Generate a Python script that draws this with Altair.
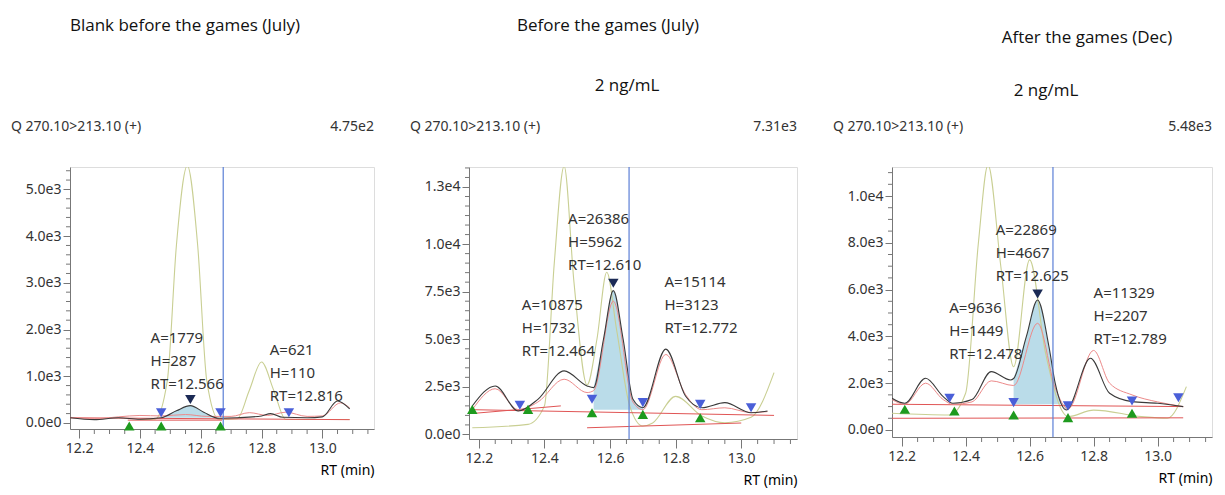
import altair as alt
import pandas as pd

FONT = "Open Sans"
UI_FONT = "Noto Sans"

# ---------- panel 1: blank before the games ----------
p1_black_x = [12.17, 12.25, 12.33, 12.40, 12.47, 12.52, 12.566, 12.61, 12.66, 12.72, 12.80, 12.83, 12.87, 12.95, 13.00, 13.05, 13.09]
p1_black_y = [110, 70, 110, 80, 110, 260, 370, 230, 100, 110, 150, 200, 120, 110, 130, 470, 300]
p1_pink_x = [12.17, 12.25, 12.33, 12.40, 12.47, 12.55, 12.62, 12.70, 12.76, 12.82, 12.88, 12.95, 13.00, 13.06, 13.09]
p1_pink_y = [120, 90, 130, 160, 150, 180, 140, 140, 220, 160, 230, 140, 150, 430, 320]
p1_yel_x = [12.40, 12.45, 12.49, 12.52, 12.556, 12.59, 12.62, 12.66, 12.72, 12.76, 12.80, 12.84, 12.88, 12.95, 13.09]
p1_yel_y = [72, 80, 900, 3800, 5507, 3800, 900, 72, 90, 700, 1304, 700, 72, 72, 72]
p1_fill = (12.47, 12.66)
p1_base_x = [[12.17, 13.09], [12.36, 12.67]]
p1_base_y = [[110, 70], [60, 60]]
p1_blue_x = [12.47, 12.665, 12.89]
p1_blue_y = [217, 217, 217]
p1_green_x = [12.365, 12.47, 12.665]
p1_green_y = [-65, -65, -65]
p1_apex = (12.566, 500)
p1_vline = 12.674
p1_ann_x = [12.435, 12.827]
p1_ann_y = [1811, 1558]
p1_ann = [["A=1779", "H=287", "RT=12.566"], ["A=621", "H=110", "RT=12.816"]]
p1_ymajor = [0, 1000, 2000, 3000, 4000, 5000]

# ---------- panel 2: before the games ----------
p2_black_x = [12.18, 12.25, 12.32, 12.38, 12.46, 12.53, 12.55, 12.58, 12.61, 12.64, 12.67, 12.70, 12.77, 12.83, 12.88, 12.95, 13.03, 13.08]
p2_black_y = [1494, 2548, 1230, 1845, 3338, 2548, 2460, 5000, 7555, 5000, 1845, 1405, 4480, 2020, 1405, 1670, 1140, 1230]
p2_pink_x = [12.18, 12.25, 12.32, 12.38, 12.46, 12.53, 12.55, 12.61, 12.67, 12.70, 12.77, 12.83, 12.88, 12.95, 13.03, 13.08]
p2_pink_y = [1300, 2400, 1300, 1700, 2900, 2200, 2300, 7000, 1700, 1300, 4200, 2100, 1300, 1400, 1150, 1200]
p2_yel_x = [12.18, 12.35, 12.40, 12.43, 12.46, 12.49, 12.53, 12.56, 12.59, 12.62, 12.66, 12.70, 12.73, 12.80, 12.88, 12.95, 13.03, 13.10]
p2_yel_y = [350, 530, 1500, 9000, 14100, 8000, 2600, 5000, 8520, 5500, 1500, 440, 600, 2000, 970, 615, 900, 3250]
p2_fill = (12.55, 12.70)
p2_base_x = [[12.18, 13.10], [12.53, 13.00], [12.18, 12.45]]
p2_base_y = [[1300, 1000], [350, 600], [1100, 1500]]
p2_blue_x = [12.325, 12.545, 12.70, 12.875, 13.03]
p2_blue_y = [1530, 1845, 1670, 1580, 1405]
p2_green_x = [12.18, 12.35, 12.545, 12.70, 12.875]
p2_green_y = [1318, 1318, 1140, 1054, 878]
p2_apex = (12.61, 7940)
p2_vline = 12.658
p2_ann_x = [12.472, 12.331, 12.766]
p2_ann_y = [11330, 6800, 8030]
p2_ann = [["A=26386", "H=5962", "RT=12.610"], ["A=10875", "H=1732", "RT=12.464"], ["A=15114", "H=3123", "RT=12.772"]]
p2_ymajor = [0, 2500, 5000, 7500, 10000, 13000]

# ---------- panel 3: after the games ----------
p3_black_x = [12.17, 12.21, 12.275, 12.33, 12.36, 12.42, 12.48, 12.54, 12.55, 12.59, 12.625, 12.66, 12.68, 12.715, 12.79, 12.85, 12.92, 13.00, 13.08]
p3_black_y = [1354, 1140, 2210, 1425, 1140, 1300, 2494, 2138, 2200, 4000, 5558, 3600, 2000, 855, 3064, 1568, 1211, 1140, 998]
p3_pink_x = [12.17, 12.21, 12.275, 12.33, 12.36, 12.42, 12.48, 12.55, 12.625, 12.68, 12.72, 12.80, 12.85, 12.92, 13.00, 13.08]
p3_pink_y = [1300, 1100, 2000, 1300, 1100, 1200, 2100, 1900, 4560, 1800, 900, 3400, 2000, 1500, 1200, 1000]
p3_yel_x = [12.17, 12.35, 12.40, 12.44, 12.47, 12.51, 12.55, 12.60, 12.65, 12.70, 12.72, 12.80, 12.95, 13.03, 13.09]
p3_yel_y = [712, 640, 1568, 8000, 11330, 7000, 2700, 7270, 3280, 855, 570, 850, 570, 500, 1852]
p3_fill = (12.55, 12.715)
p3_base_x = [[12.17, 13.08], [12.17, 13.08]]
p3_base_y = [[1100, 1000], [500, 520]]
p3_blue_x = [12.35, 12.55, 12.72, 12.92, 13.065]
p3_blue_y = [1354, 1170, 1030, 1240, 1380]
p3_green_x = [12.21, 12.365, 12.55, 12.72, 12.92]
p3_green_y = [883, 810, 641, 527, 712]
p3_apex = (12.625, 5814)
p3_vline = 12.673
p3_ann_x = [12.494, 12.349, 12.80]
p3_ann_y = [8550, 5200, 5870]
p3_ann = [["A=22869", "H=4667", "RT=12.625"], ["A=9636", "H=1449", "RT=12.478"], ["A=11329", "H=2207", "RT=12.789"]]
p3_ymajor = [0, 2000, 4000, 6000, 8000, 10000]

x_major = [12.2, 12.4, 12.6, 12.8, 13.0]
x_minor = [12.25, 12.3, 12.35, 12.45, 12.5, 12.55, 12.65, 12.7, 12.75, 12.85, 12.9, 12.95, 13.05, 13.1, 13.15]

headers = [
    {"title": "Blank before the games (July)", "tx": 115, "ty": -141, "conc": None, "cx": 0, "cy": 0, "scale": "4.75e2"},
    {"title": "Before the games (July)", "tx": 139, "ty": -141, "conc": "2 ng/mL", "cx": 158, "cy": -81, "scale": "7.31e3"},
    {"title": "After the games (Dec)", "tx": 195, "ty": -129, "conc": "2 ng/mL", "cx": 154, "cy": -76, "scale": "5.48e3"},
]


def panel(bx, by, px, py, yx, yy, fill, base_x, base_y, blue_x, blue_y, green_x, green_y,
          apex, vline, ann_x, ann_y, ann, ydom, ymajor, ystep, width, height, hdr):
    xdom = [12.17, 13.17]
    x_axis = alt.Axis(values=x_major, title="RT (min)", titleAnchor="end", titleFontWeight="normal",
                      titleFont=UI_FONT, titleFontSize=14, titlePadding=8, format=".1f",
                      tickSize=9, labelFont=UI_FONT, labelFontSize=14, labelColor="#333", labelPadding=3,
                      grid=False, domainColor="#777", tickColor="#777")
    y_axis = alt.Axis(values=ymajor, title=None, tickSize=7,
                      labelExpr="replace(format(datum.value, '.1e'), '+', '')",
                      labelFont=UI_FONT, labelFontSize=14, labelColor="#333",
                      grid=False, domainColor="#777", tickColor="#777")
    X = alt.X("x:Q", scale=alt.Scale(domain=xdom, nice=False, zero=False), axis=x_axis)
    Y = alt.Y("y:Q", scale=alt.Scale(domain=ydom, nice=False, zero=False), axis=y_axis)
    Xn = alt.X("x:Q")
    Yn = alt.Y("y:Q")

    black = pd.DataFrame({"x": bx, "y": by})
    fill_df = black[(black.x >= fill[0]) & (black.x <= fill[1])].assign(y2=base_y[0][0])
    y_minor = [ystep * i for i in range(int(ydom[1] // ystep) + 1) if ystep * i not in ymajor]
    layers = [
        alt.Chart(fill_df).mark_area(color="#a9d3e3", opacity=0.8, interpolate="monotone", clip=True)
        .encode(x=X, y=Y, y2="y2:Q"),
        # minor ticks
        alt.Chart(pd.DataFrame({"y": y_minor})).mark_rule(color="#777", strokeWidth=1)
        .encode(y=Yn, x=alt.value(-4), x2=alt.value(0)),
        alt.Chart(pd.DataFrame({"x": x_minor})).mark_rule(color="#777", strokeWidth=1)
        .encode(x=Xn, y=alt.value(height), y2=alt.value(height + 5)),
        alt.Chart(pd.DataFrame({"x": yx, "y": yy})).mark_line(color="#c9cf93", strokeWidth=1.1,
                                                              interpolate="monotone", clip=True).encode(x=Xn, y=Yn),
    ]
    for bxs, bys in zip(base_x, base_y):
        layers.append(alt.Chart(pd.DataFrame({"x": bxs, "y": bys})).mark_line(color="#e05555", strokeWidth=1)
                      .encode(x=Xn, y=Yn))
    layers += [
        alt.Chart(pd.DataFrame({"x": px, "y": py})).mark_line(color="#ec8a8a", strokeWidth=1,
                                                              interpolate="monotone", clip=True).encode(x=Xn, y=Yn),
        alt.Chart(black).mark_line(color="#3a3a3a", strokeWidth=1.1, interpolate="monotone", clip=True)
        .encode(x=Xn, y=Yn),
        alt.Chart(pd.DataFrame({"x": [vline]})).mark_rule(color="#5b7fd6", strokeWidth=1.2)
        .encode(x=Xn),
        alt.Chart(pd.DataFrame({"x": blue_x, "y": blue_y})).mark_point(shape="triangle-down", filled=True,
                                                                      size=110, color="#4a5fd8", opacity=1)
        .encode(x=Xn, y=Yn),
        alt.Chart(pd.DataFrame({"x": green_x, "y": green_y})).mark_point(shape="triangle-up", filled=True,
                                                                        size=110, color="#1e9a1e", opacity=1)
        .encode(x=Xn, y=Yn),
        alt.Chart(pd.DataFrame({"x": [apex[0]], "y": [apex[1]]})).mark_point(shape="triangle-down", filled=True,
                                                                            size=110, color="#1b2a55", opacity=1)
        .encode(x=Xn, y=Yn),
    ]
    ann_df = pd.DataFrame({"x": ann_x, "y": ann_y, "t": ann})
    layers.append(alt.Chart(ann_df).mark_text(align="left", baseline="middle", font=UI_FONT, fontSize=15,
                                              color="#333", lineHeight=23)
                  .encode(x=Xn, y=Yn, text="t"))

    one = pd.DataFrame({"d": [0]})
    layers.append(alt.Chart(one).mark_text(text=hdr["title"], font=FONT, fontSize=17, color="#111",
                                           align="center", baseline="middle")
                  .encode(x=alt.value(hdr["tx"]), y=alt.value(hdr["ty"])))
    if hdr["conc"]:
        layers.append(alt.Chart(one).mark_text(text=hdr["conc"], font=FONT, fontSize=17, color="#111",
                                               align="center", baseline="middle")
                      .encode(x=alt.value(hdr["cx"]), y=alt.value(hdr["cy"])))
    layers.append(alt.Chart(one).mark_text(text="Q 270.10>213.10 (+)", font=UI_FONT, fontSize=14, color="#333",
                                           align="left", baseline="middle")
                  .encode(x=alt.value(-59), y=alt.value(-40)))
    layers.append(alt.Chart(one).mark_text(text=hdr["scale"], font=UI_FONT, fontSize=14, color="#333",
                                           align="right", baseline="middle")
                  .encode(x=alt.value(width), y=alt.value(-40)))
    return alt.layer(*layers).properties(width=width, height=height)


c1 = panel(p1_black_x, p1_black_y, p1_pink_x, p1_pink_y, p1_yel_x, p1_yel_y, p1_fill, p1_base_x, p1_base_y,
           p1_blue_x, p1_blue_y, p1_green_x, p1_green_y, p1_apex, p1_vline, p1_ann_x, p1_ann_y, p1_ann,
           [-130, 5480], p1_ymajor, 200, 304, 262, headers[0])
c2 = panel(p2_black_x, p2_black_y, p2_pink_x, p2_pink_y, p2_yel_x, p2_yel_y, p2_fill, p2_base_x, p2_base_y,
           p2_blue_x, p2_blue_y, p2_green_x, p2_green_y, p2_apex, p2_vline, p2_ann_x, p2_ann_y, p2_ann,
           [-240, 14050], p2_ymajor, 500, 328, 272, headers[1])
c3 = panel(p3_black_x, p3_black_y, p3_pink_x, p3_pink_y, p3_yel_x, p3_yel_y, p3_fill, p3_base_x, p3_base_y,
           p3_blue_x, p3_blue_y, p3_green_x, p3_green_y, p3_apex, p3_vline, p3_ann_x, p3_ann_y, p3_ann,
           [-300, 11240], p3_ymajor, 500, 320, 270, headers[2])

chart = alt.hconcat(c1, c2, c3, spacing=34).properties(
    padding={"left": 2, "top": 8, "right": 0, "bottom": 0}
).configure_view(stroke=None).configure(background="white")

chart.save("out.html", embed_options={"renderer": "svg", "actions": False})
